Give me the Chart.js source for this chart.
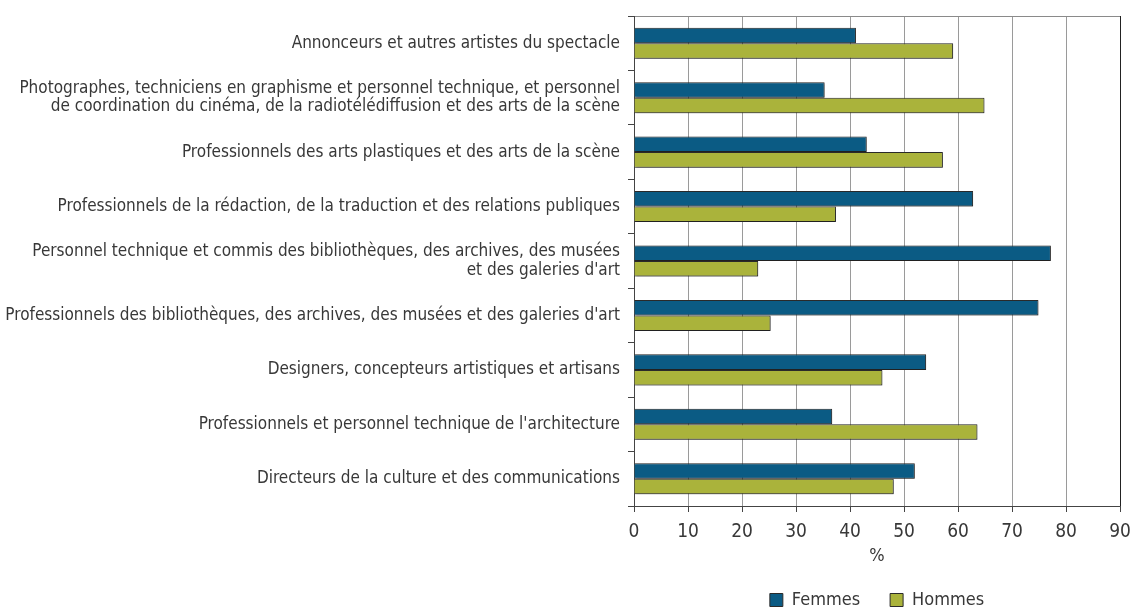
<!DOCTYPE html>
<html>
<head>
<meta charset="utf-8">
<script src="https://cdn.jsdelivr.net/npm/chart.js@4"></script>
<style>
  html, body { margin: 0; padding: 0; background: #fff; }
  #wrap { width: 1131px; height: 610px; }
</style>
</head>
<body>
<div id="wrap"><canvas id="professionChart"></canvas></div>
<script>
// categories, top to bottom
const categories = [
    "Annonceurs et autres artistes du spectacle",
    ["Photographes, techniciens en graphisme et personnel technique, et personnel",
     "de coordination du cinéma, de la radiotélédiffusion et des arts de la scène"],
    "Professionnels des arts plastiques et des arts de la scène",
    "Professionnels de la rédaction, de la traduction et des relations publiques",
    ["Personnel technique et commis des bibliothèques, des archives, des musées",
     "et des galeries d'art"],
    "Professionnels des bibliothèques, des archives, des musées et des galeries d'art",
    "Designers, concepteurs artistiques et artisans",
    "Professionnels et personnel technique de l'architecture",
    "Directeurs de la culture et des communications"
];

const femmes = [41.1, 35.3, 43.1, 62.8, 77.2, 74.9, 54.1, 36.7, 52.0];
const hommes = [59.1, 64.9, 57.2, 37.4, 23.0, 25.3, 46.0, 63.6, 48.1];

const xTicks = [0, 10, 20, 30, 40, 50, 60, 70, 80, 90];

const FONT = "'Liberation Sans Narrow', 'DejaVu Sans Condensed', 'Liberation Sans', sans-serif";
const TEXT = '#383838';

// centre the legend over the plot area instead of the whole canvas
const legendOverPlot = {
    id: 'legendOverPlot',
    afterLayout(chart) {
        const lg = chart.legend;
        const area = chart.chartArea;
        lg.left = area.left;
        lg.right = area.right;
        lg.width = lg.right - lg.left;
    }
};

// soft drop shadow under the bars
const barShadow = {
    id: 'barShadow',
    beforeDatasetsDraw(chart) {
        const ctx = chart.ctx;
        ctx.save();
        ctx.shadowColor = 'rgba(0,0,0,0.35)';
        ctx.shadowBlur = 2;
        ctx.shadowOffsetX = 1;
        ctx.shadowOffsetY = 1;
    },
    afterDatasetsDraw(chart) {
        chart.ctx.restore();
    }
};

new Chart(document.getElementById("professionChart"), {
    type: 'bar',
    data: {
        labels: categories,
        datasets: [{
                label: 'Femmes',
                data: femmes,
                backgroundColor: '#0b5b84',
                borderColor: '#2b2b2b',
                borderWidth: 1
            }, {
                label: 'Hommes',
                data: hommes,
                backgroundColor: '#aab33b',
                borderColor: '#2b2b2b',
                borderWidth: 1
            }]
    },
    options: {
        indexAxis: 'y',
        responsive: true,
        maintainAspectRatio: false,
        animation: false,
        layout: {
            padding: {top: 16, right: 11, bottom: -9, left: 0}
        },
        datasets: {
            bar: {
                categoryPercentage: 0.57,
                barPercentage: 1.0
            }
        },
        scales: {
            x: {
                min: 0,
                max: 90,
                afterBuildTicks(scale) {
                    scale.ticks = xTicks.map(v => ({value: v}));
                },
                afterFit(scale) {
                    scale.height = 55;
                    scale.paddingLeft = 0;
                    scale.paddingRight = 0;
                },
                grid: {
                    color: ctx => ctx.tick && ctx.tick.value === 90 ? '#222' : '#9a9a9a',
                    tickColor: '#444',
                    tickLength: 6,
                    lineWidth: 1
                },
                border: {color: '#444', width: 1},
                ticks: {
                    color: TEXT,
                    padding: 9,
                    font: {family: FONT, size: 19}
                },
                title: {
                    display: true,
                    text: '%',
                    color: TEXT,
                    padding: {top: 0, bottom: 0},
                    font: {family: FONT, size: 18, lineHeight: 0.5}
                }
            },
            y: {
                afterFit(scale) {
                    scale.width = 634;
                    scale.paddingTop = 0;
                    scale.paddingBottom = 0;
                },
                grid: {
                    offset: true,
                    drawOnChartArea: true,
                    color: ctx => ctx.index === 0 ? '#8a8a8a' : 'rgba(0,0,0,0)',
                    tickColor: '#444',
                    tickLength: 6
                },
                border: {color: '#444', width: 1},
                ticks: {
                    color: TEXT,
                    padding: 8,
                    font: {family: FONT, size: 17, lineHeight: 1.1}
                }
            }
        },
        plugins: {
            legend: {
                position: 'bottom',
                labels: {
                    boxWidth: 13,
                    boxHeight: 13,
                    padding: 30,
                    color: TEXT,
                    font: {family: FONT, size: 18}
                }
            },
            tooltip: {enabled: false}
        }
    },
    plugins: [legendOverPlot, barShadow]
});
</script>
</body>
</html>
